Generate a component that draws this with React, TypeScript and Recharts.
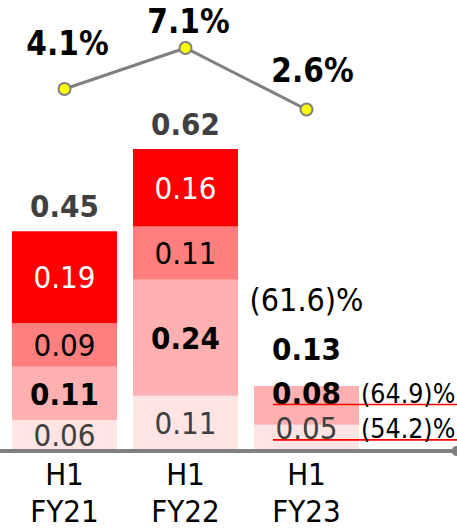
import React from 'react';
import { ComposedChart, Bar, Line, XAxis, YAxis, LabelList } from 'recharts';

// values
const periodTop = ['H1', 'H1', 'H1'];
const periodBottom = ['FY21', 'FY22', 'FY23'];
const baseSeg = [0.06, 0.11, 0.05];
const boldSeg = [0.11, 0.24, 0.08];
const midSeg = [0.09, 0.11, null];
const topSeg = [0.19, 0.16, null];
const totals = [0.45, 0.62, 0.13];
const marginPct = [4.1, 7.1, 2.6];
const totalNotes = ['', '', '(61.6)%'];
const boldNotes = ['', '', '(64.9)%'];
const baseNotes = ['', '', '(54.2)%'];

const W = 457;
const H = 528;
const FONT = "'DejaVu Sans Condensed', 'DejaVu Sans', sans-serif";
const FS = 31;
const FS_PCT = 33;
const FS_NOTE = 32;
const FS_SIDE = 26.5;
const GREY = '#404040';

const TOTAL_COLORS = [GREY, GREY, '#000000'];
const TOTAL_GAP = [25, 25, 37];
const LINE_LABEL_SHIFT = [
  { dx: 3, dy: -46 },
  { dx: 3, dy: -27 },
  { dx: 6, dy: -39 },
];

const data = periodBottom.map((p, i) => ({
  name: p,
  base: baseSeg[i],
  bold: boldSeg[i],
  mid: midSeg[i],
  hi: topSeg[i],
  total: totals[i],
  margin: marginPct[i],
}));

const txt = (size: number) => ({ fontFamily: FONT, fontSize: size, fontStretch: 'condensed' as const });
const mid = (size: number) => 0.36 * size;

function box(p: any) {
  return p.viewBox ?? p;
}

function segLabel(color: string, weight: string, notes?: string[], lift = 0) {
  return (props: any) => {
    const v = props.value;
    if (v == null) return null;
    const { x, y, width, height } = box(props);
    const note = notes?.[props.index];
    const cx = x + width / 2;
    const cy = y + height / 2 - (note ? lift : 0);
    return (
      <g>
        <text x={cx} y={cy + mid(FS)} textAnchor="middle" fill={color} fontWeight={weight} style={txt(FS)}>
          {Number(v).toFixed(2)}
        </text>
        {note && (
          <>
            <line x1={x + 19} x2={W} y1={cy + 12} y2={cy + 12} stroke="#ff0000" strokeWidth={1.6} />
            <text x={x + width + 2} y={cy + mid(FS_SIDE) + 1} textAnchor="start" fill="#000" style={txt(FS_SIDE)}>
              {note}
            </text>
          </>
        )}
      </g>
    );
  };
}

const totalLabel = (props: any) => {
  const { x, y } = box(props);
  const i = props.index;
  const cy = y - TOTAL_GAP[i];
  return (
    <g>
      <text x={x} y={cy + mid(FS)} textAnchor="middle" fill={TOTAL_COLORS[i]} fontWeight="bold" style={txt(FS)}>
        {Number(props.value).toFixed(2)}
      </text>
      {totalNotes[i] && (
        <text x={x} y={cy - 50 + mid(FS_NOTE)} textAnchor="middle" fill="#000" style={txt(FS_NOTE)}>
          {totalNotes[i]}
        </text>
      )}
    </g>
  );
};

const marginLabel = (props: any) => {
  const { x, y } = box(props);
  const s = LINE_LABEL_SHIFT[props.index];
  return (
    <text x={x + s.dx} y={y + s.dy + mid(FS_PCT)} textAnchor="middle" fill="#000" fontWeight="bold" style={txt(FS_PCT)}>
      {`${Number(props.value).toFixed(1)}%`}
    </text>
  );
};

const PeriodTick = (props: any) => {
  const { x, y, payload } = props;
  const i = periodBottom.indexOf(payload.value);
  return (
    <g>
      <text x={x} y={y + 36} textAnchor="middle" fill="#000" style={txt(FS)}>{periodTop[i]}</text>
      <text x={x} y={y + 73} textAnchor="middle" fill="#000" style={txt(FS)}>{payload.value}</text>
    </g>
  );
};

export default function App() {
  return (
    <div style={{ position: 'absolute', left: 0, top: 0, width: W, height: H, background: '#fff' }}>
      <svg width={0} height={0} style={{ position: 'absolute' }}>
        <defs>
          <marker id="axisEnd" viewBox="0 0 10 10" refX="5" refY="5" markerWidth="2.6" markerHeight="2.6" orient="auto">
            <circle cx="5" cy="5" r="5" fill="#808080" />
          </marker>
        </defs>
      </svg>
      <ComposedChart width={W} height={H} data={data} margin={{ top: 0, right: 0, bottom: 0, left: 0 }}>
        <XAxis
          dataKey="name"
          height={79}
          padding={{ left: 4, right: 90 }}
          tickLine={false}
          tickSize={0}
          tickMargin={0}
          axisLine={{ stroke: '#808080', strokeWidth: 4, transform: 'translate(0,2)', markerEnd: 'url(#axisEnd)' }}
          tick={<PeriodTick />}
          interval={0}
        />
        <YAxis yAxisId="left" hide type="number" domain={[0, 0.928]} allowDataOverflow />
        <YAxis yAxisId="right" hide orientation="right" type="number" domain={[-22.24, 10.61]} allowDataOverflow />
        <Bar yAxisId="left" dataKey="base" stackId="a" barSize={105} fill="#ffe4e4" isAnimationActive={false}>
          <LabelList dataKey="base" content={segLabel(GREY, 'normal', baseNotes, 9)} />
        </Bar>
        <Bar yAxisId="left" dataKey="bold" stackId="a" barSize={105} fill="#ffb1b1" isAnimationActive={false}>
          <LabelList dataKey="bold" content={segLabel('#000', 'bold', boldNotes, 13)} />
        </Bar>
        <Bar yAxisId="left" dataKey="mid" stackId="a" barSize={105} fill="#ff7f7f" isAnimationActive={false}>
          <LabelList dataKey="mid" content={segLabel('#000', 'normal')} />
        </Bar>
        <Bar yAxisId="left" dataKey="hi" stackId="a" barSize={105} fill="#ff0000" isAnimationActive={false}>
          <LabelList dataKey="hi" content={segLabel('#fff', 'normal')} />
        </Bar>
        <Line
          yAxisId="left"
          dataKey="total"
          stroke="none"
          dot={false}
          activeDot={false}
          isAnimationActive={false}
        >
          <LabelList dataKey="total" content={totalLabel} />
        </Line>
        <Line
          yAxisId="right"
          dataKey="margin"
          stroke="#808080"
          strokeWidth={3}
          dot={{ r: 6, fill: '#ffff00', stroke: '#808080', strokeWidth: 2 }}
          activeDot={false}
          isAnimationActive={false}
        >
          <LabelList dataKey="margin" content={marginLabel} />
        </Line>
      </ComposedChart>
    </div>
  );
}
